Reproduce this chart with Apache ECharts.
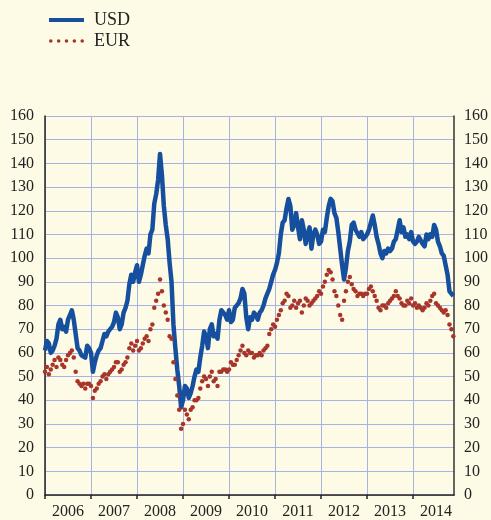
<!DOCTYPE html>
<html>
<head>
<meta charset="utf-8">
<script src="https://cdn.jsdelivr.net/npm/echarts@6/dist/echarts.min.js"></script>
<style>
  html, body { margin: 0; padding: 0; background: #fdfbe5; }
  #chart { width: 491px; height: 520px; }
</style>
</head>
<body>
<div id="chart"></div>
<script>
// two readings per month (1st and 16th)
const years = [2006, 2007, 2008, 2009, 2010, 2011, 2012, 2013, 2014];

const usd2006 = [61, 65, 64, 60, 61, 63, 66, 72, 74, 70, 71, 69, 74, 76, 78, 74, 68, 62, 61, 59, 59, 58, 63, 62];
const usd2007 = [60, 52, 56, 59, 61, 62, 65, 68, 67, 69, 70, 71, 73, 77, 75, 70, 72, 77, 79, 82, 89, 93, 90, 94];
const usd2008 = [97, 90, 93, 97, 101, 104, 102, 110, 112, 123, 127, 133, 144, 135, 122, 114, 108, 98, 90, 72, 62, 53, 46, 37];
const usd2009 = [40, 46, 45, 41, 43, 46, 50, 53, 52, 58, 63, 69, 67, 62, 70, 72, 67, 68, 66, 74, 78, 78, 76, 74];
const usd2010 = [78, 73, 74, 79, 79, 81, 83, 87, 85, 75, 70, 75, 74, 77, 76, 74, 77, 78, 80, 83, 85, 87, 90, 93];
const usd2011 = [95, 98, 102, 110, 115, 116, 121, 125, 122, 112, 114, 119, 113, 108, 116, 112, 106, 110, 113, 104, 110, 112, 110, 106];
const usd2012 = [107, 112, 111, 117, 122, 125, 124, 119, 117, 111, 104, 97, 91, 96, 103, 107, 114, 115, 112, 112, 109, 111, 108, 109];
const usd2013 = [110, 112, 115, 118, 114, 109, 106, 102, 100, 103, 102, 104, 103, 104, 107, 108, 112, 116, 111, 113, 109, 110, 108, 111];
const usd2014 = [107, 106, 107, 109, 109, 106, 105, 110, 108, 110, 109, 114, 112, 107, 105, 102, 101, 97, 93, 86, 85, 84];

const eur2006 = [52, 54, 51, 53, 55, 57, 54, 58, 57, 55, 54, 57, 59, 60, 61, 58, 52, 48, 47, 46, 47, 45, 47, 47];
const eur2007 = [46, 41, 44, 45, 47, 48, 50, 51, 49, 51, 52, 53, 54, 56, 56, 52, 53, 55, 56, 58, 62, 64, 61, 63];
const eur2008 = [65, 61, 62, 64, 66, 67, 65, 70, 72, 79, 82, 85, 91, 86, 80, 77, 74, 67, 66, 56, 49, 42, 36, 28];
const eur2009 = [30, 36, 34, 32, 36, 37, 40, 40, 41, 45, 48, 50, 49, 46, 50, 52, 48, 49, 46, 52, 52, 53, 53, 52];
const eur2010 = [53, 56, 55, 55, 57, 59, 61, 63, 60, 59, 61, 60, 60, 58, 59, 59, 60, 59, 61, 62, 63, 68, 70, 72];
const eur2011 = [71, 74, 76, 78, 81, 82, 85, 84, 79, 80, 82, 79, 81, 82, 77, 80, 83, 82, 80, 81, 82, 83, 84, 86];
const eur2012 = [85, 88, 90, 93, 95, 94, 91, 86, 84, 80, 76, 74, 82, 86, 90, 92, 89, 87, 86, 84, 85, 85, 84, 85];
const eur2013 = [85, 87, 88, 86, 84, 82, 79, 78, 80, 80, 79, 81, 82, 83, 84, 86, 84, 83, 81, 80, 80, 82, 81, 83];
const eur2014 = [80, 81, 79, 80, 79, 78, 79, 81, 80, 82, 84, 85, 81, 80, 79, 78, 77, 78, 76, 72, 70, 67];

const usdByYear = [usd2006, usd2007, usd2008, usd2009, usd2010, usd2011, usd2012, usd2013, usd2014];
const eurByYear = [eur2006, eur2007, eur2008, eur2009, eur2010, eur2011, eur2012, eur2013, eur2014];

const yearTicks = [2006, 2007, 2008, 2009, 2010, 2011, 2012, 2013, 2014];
const yearLabelPos = [2006.5, 2007.5, 2008.5, 2009.5, 2010.5, 2011.5, 2012.5, 2013.5, 2014.5];

function toPairs(byYear) {
    let out = [];
    for (let k = 0; k < years.length; k++) {
        let vals = byYear[k];
        for (let i = 0; i < vals.length; i++) {
            out.push([years[k] + i / 24, vals[i]]);
        }
    }
    return out;
}

const font = 'Liberation Serif';
const gridColor = '#a9b3e3';

const dots = [0, 1, 2, 3, 4].map(i => {
    let cx = 2 + i * 8.75;
    return 'M' + (cx - 2) + ',2a2,2 0 1,0 4,0a2,2 0 1,0 -4,0';
}).join('');

let myChart = echarts.init(document.getElementById('chart'));
myChart.setOption({
    backgroundColor: '#fdfbe5',
    animation: false,
    textStyle: { fontFamily: font, color: '#222' },
    legend: {
        orient: 'vertical',
        left: 44,
        top: 6,
        itemWidth: 35,
        itemHeight: 4,
        itemGap: 3,
        selectedMode: false,
        textStyle: { fontFamily: font, fontSize: 18, color: '#222', lineHeight: 18, padding: [0, 0, 0, 5] },
        data: [
            { name: 'USD', icon: 'path://M0,0H35V4H0Z' },
            { name: 'EUR', icon: 'path://' + dots, itemStyle: { opacity: 1 } }
        ]
    },
    grid: { left: 45, right: 36, top: 116, bottom: 25, containLabel: false },
    xAxis: {
        type: 'value',
        min: 2006,
        max: 2014.89,
        interval: 1,
        axisLine: { show: true, lineStyle: { color: '#222', width: 1.5 } },
        axisTick: { show: true, length: 4, customValues: yearTicks, lineStyle: { color: '#222', width: 1.5 } },
        axisLabel: {
            customValues: yearLabelPos,
            formatter: v => String(Math.floor(v)),
            fontFamily: font, fontSize: 16, color: '#222', margin: 9
        },
        splitLine: { show: true, lineStyle: { color: gridColor, width: 1 } }
    },
    yAxis: [{
        type: 'value',
        position: 'left',
        min: 0,
        max: 160,
        interval: 10,
        axisLine: { show: true, lineStyle: { color: '#222', width: 1.5 } },
        axisTick: { show: false },
        axisLabel: { fontFamily: font, fontSize: 16, color: '#222', margin: 11 },
        splitLine: { show: true, lineStyle: { color: gridColor, width: 1 } }
    }, {
        type: 'value',
        position: 'right',
        min: 0,
        max: 160,
        interval: 10,
        axisLine: { show: true, lineStyle: { color: '#333', width: 1.5 } },
        axisTick: { show: false },
        axisLabel: { fontFamily: font, fontSize: 16, color: '#222', margin: 10 },
        splitLine: { show: false }
    }],
    series: [{
        name: 'USD',
        type: 'line',
        data: toPairs(usdByYear),
        showSymbol: false,
        color: '#164f9e',
        lineStyle: { width: 4.5, color: '#164f9e', join: 'round' },
        z: 3
    }, {
        name: 'EUR',
        type: 'scatter',
        data: toPairs(eurByYear),
        symbol: 'circle',
        symbolSize: 4.5,
        color: '#a8352a',
        itemStyle: { opacity: 1 },
        z: 4
    }]
});
</script>
</body>
</html>
